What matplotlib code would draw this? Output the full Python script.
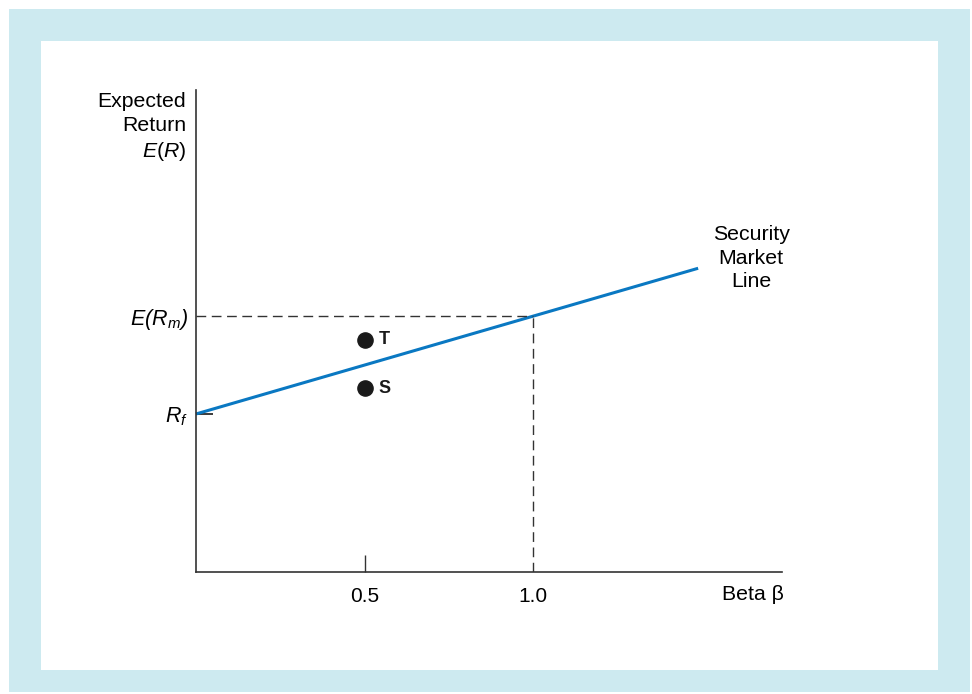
import matplotlib.pyplot as plt
from matplotlib.patches import Rectangle

plt.rcParams['font.family'] = ['Liberation Sans', 'DejaVu Sans']
plt.rcParams['mathtext.fontset'] = 'custom'
plt.rcParams['mathtext.rm'] = 'Liberation Sans:italic'
plt.rcParams['mathtext.it'] = 'Liberation Sans:italic'

# values (beta, expected return in arbitrary units)
rf = 3.2
erm = 5.18
beta_end = 1.49
stock_names = ["T", "S"]
stock_beta = [0.5, 0.5]
stock_ret = [4.70, 3.72]
xticks = [0.5, 1.0]
xticklabels = ["0.5", "1.0"]

W, H = 972, 694
fig = plt.figure(figsize=(W / 100, H / 100), dpi=100)
fig.patch.set_facecolor("white")
fig.patches.append(Rectangle((9 / W, 2 / H), 961 / W, 683 / H, transform=fig.transFigure,
                             facecolor="#cdeaf0", edgecolor="none", zorder=-2))
fig.patches.append(Rectangle((41 / W, 24 / H), 897 / W, 629 / H, transform=fig.transFigure,
                             facecolor="white", edgecolor="none", zorder=-1))

ax = fig.add_axes([196 / W, 122 / H, 586 / W, 482 / H])
ax.patch.set_alpha(0)
ax.set_xlim(0, 586 / 337)
ax.set_ylim(0, 9.76)
for s in ["top", "right"]:
    ax.spines[s].set_visible(False)
for s in ["left", "bottom"]:
    ax.spines[s].set_color("#333333")
    ax.spines[s].set_linewidth(1.2)

# security market line
ax.plot([0, beta_end], [rf, rf + (erm - rf) * beta_end], color="#0a78c2", lw=2.2,
        solid_capstyle="butt", clip_on=False)

# market dashed guides
ax.plot([0, 1.0], [erm, erm], color="#333333", lw=1.0, dashes=(7, 4))
ax.plot([1.0, 1.0], [0, erm], color="#333333", lw=1.0, dashes=(7, 4))

# stocks
ax.scatter(stock_beta, stock_ret, s=120, color="#1a1a1a", zorder=3)
for n, b, r in zip(stock_names, stock_beta, stock_ret):
    ax.annotate(n, (b, r), xytext=(10, 0), textcoords="offset points", ha="left",
                va="center", fontsize=13, fontweight="bold", color="#1a1a1a")

# ticks
ax.set_xticks(xticks)
ax.set_xticklabels(xticklabels, fontsize=15)
ax.tick_params(axis="x", direction="in", length=12, width=1.0, color="#333333", pad=11)
ax.xaxis.get_major_ticks()[1].tick1line.set_visible(False)
ax.set_yticks([rf, erm])
ax.set_yticklabels([r"$R_f$", r"$E(R_m)$"], fontsize=15.5)
ax.tick_params(axis="y", direction="in", length=12, width=1.2, color="#1a1a1a", pad=6)
ax.yaxis.get_major_ticks()[1].tick1line.set_visible(False)

# labels
fig.text(186 / W, 1 - 92 / H, "Expected\nReturn\n$\\mathit{E}$($\\mathit{R}$)", ha="right", va="top",
         fontsize=15.3, linespacing=1.31)
fig.text(751 / W, 1 - 225 / H, "Security\nMarket\nLine", ha="center", va="top",
         fontsize=15.3, linespacing=1.31)
fig.text(784 / W, 1 - 595 / H, "Beta β", ha="right", va="center", fontsize=15.3)

fig.savefig("out.png", dpi=100)
